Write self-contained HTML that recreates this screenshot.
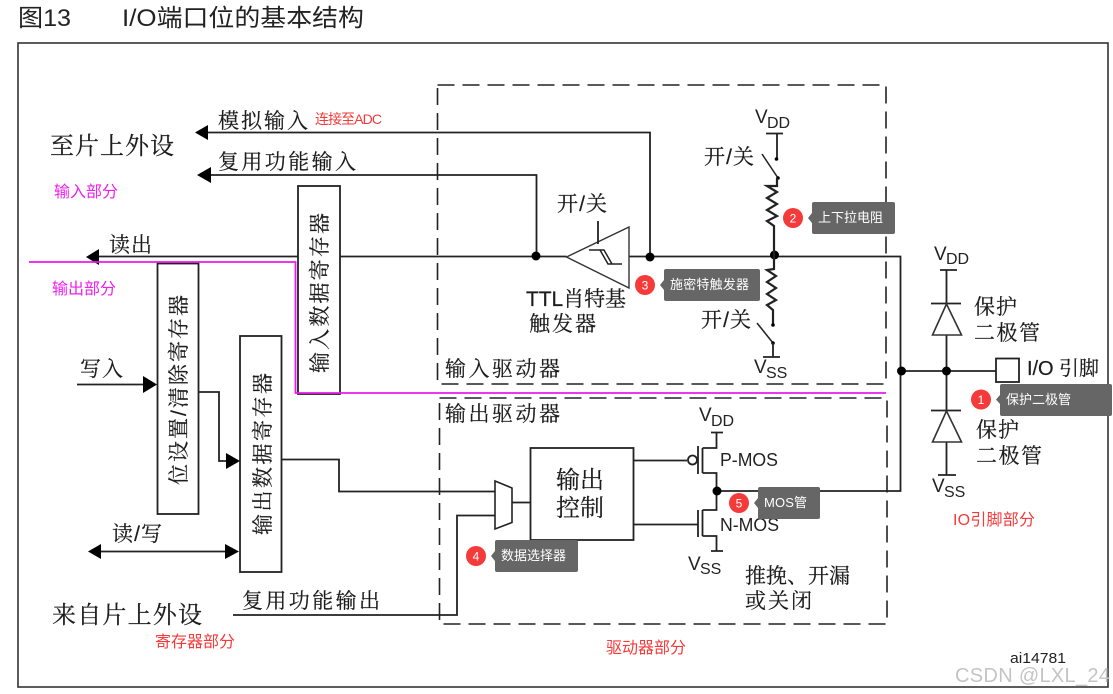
<!DOCTYPE html>
<html>
<head>
<meta charset="utf-8">
<style>
html,body{margin:0;padding:0;background:#fff;width:1113px;height:694px;overflow:hidden}
svg{display:block}
.s{font-family:"Liberation Sans","Noto Serif CJK SC",serif;fill:#1c1c1c;stroke:#1c1c1c;stroke-width:.2}
.a{font-family:"Liberation Sans",sans-serif;fill:#222}
.n{font-family:"Liberation Sans","Noto Sans CJK SC",sans-serif}
.w{fill:#fff;font-size:13px}
.l{stroke:#222;stroke-width:1.8;fill:none}
.t{stroke:#333;stroke-width:1.4;fill:none}
.d{stroke:#222;stroke-width:1.6;fill:none;stroke-dasharray:17 8}
.b{fill:#000}
.g{fill:#666}
.c{fill:#f53a3a}
</style>
</head>
<body>
<svg width="1113" height="694" viewBox="0 0 1113 694" xmlns="http://www.w3.org/2000/svg">
<rect width="1113" height="694" fill="#fff"/>
<text class="n" x="18" y="26" font-size="24" fill="#222" textLength="53" lengthAdjust="spacingAndGlyphs">图13</text>
<text class="n" x="122" y="26" font-size="24" fill="#222" textLength="242" lengthAdjust="spacingAndGlyphs">I/O端口位的基本结构</text>
<rect x="18" y="43" width="1090" height="644" fill="none" stroke="#333" stroke-width="1.6"/>

<rect class="d" x="437.5" y="85" width="448.5" height="299"/>
<rect class="d" x="439.5" y="398" width="447.5" height="226"/>

<!-- left lines and arrows -->
<path class="l" d="M205 132.500H650V256"/>
<polygon class="b" points="195,132.500 208,125 208,140"/>
<path class="l" d="M207 175H536.500V256"/>
<polygon class="b" points="197,175 211,167 211,183"/>
<path class="l" d="M96 256.500H298"/>
<polygon class="b" points="86,257 99,249 99,265"/>
<path class="l" d="M340 256.500H566.500"/>
<path class="l" d="M629 256.500H900.500V491H717"/>
<rect x="298" y="186" width="42" height="208" fill="#fff" stroke="#222" stroke-width="1.800"/>
<rect x="157.500" y="263.500" width="41" height="250.500" fill="#fff" stroke="#222" stroke-width="1.800"/>
<rect x="240" y="336" width="41.500" height="236" fill="#fff" stroke="#222" stroke-width="1.800"/>
<path class="l" d="M77 384.500H146"/>
<polygon class="b" points="157,384.500 143,376 143,393"/>
<path class="l" d="M198.500 392H219V461H228"/>
<polygon class="b" points="240,461 226,453 226,469"/>
<path class="l" d="M98 551.500H230"/>
<polygon class="b" points="88,551.500 101,544 101,559"/>
<polygon class="b" points="239,551.500 225,544 225,559"/>
<path class="l" d="M281 459.500H339V491.500H495"/>
<path class="l" d="M233 615H457V515.500H495"/>
<polygon points="495,481 512,488 512,522.500 495,529" fill="#fff" stroke="#222" stroke-width="1.6"/>
<path class="l" d="M512 502.500H530"/>
<rect x="530.500" y="448" width="103" height="92" fill="#fff" stroke="#222" stroke-width="1.800"/>

<!-- Schmitt trigger -->
<polygon points="566.500,257 629,227 629,288" fill="#fff" stroke="#333" stroke-width="1.400"/>
<path class="l" d="M598 221V244"/>
<path d="M589 250H604L612 264H622M600 250L608 264H612" fill="none" stroke="#222" stroke-width="1.500"/>
<circle class="b" cx="536" cy="256" r="4.500"/>
<circle class="b" cx="650" cy="257" r="4.500"/>
<circle class="b" cx="774.500" cy="255" r="4.500"/>

<!-- pull up -->
<path class="l" d="M766 133.500H783M777 133.500V159"/>
<circle class="b" cx="776.500" cy="159" r="1.800"/>
<path d="M762 154L778 178" stroke="#222" stroke-width="1.500" fill="none"/>
<circle class="b" cx="778" cy="178" r="1.800"/>
<path d="M777 178V186L767 186L777 192L767 198L777 204L767 210L777 216L767 221L774 226V255" fill="none" stroke="#222" stroke-width="2.200"/>
<!-- pull down -->
<path d="M774 255V269L767 270L776 276L767 282L776 288L767 294L776 300L767 305L773 310V325" fill="none" stroke="#222" stroke-width="2.200"/>
<circle class="b" cx="773" cy="325" r="1.800"/>
<path d="M757 323L773 343" stroke="#222" stroke-width="1.500" fill="none"/>
<circle class="b" cx="773" cy="343" r="1.800"/>
<path class="l" d="M773 343V357M763 357H780"/>

<!-- MOS -->
<path class="l" d="M633 460.500H687"/>
<circle cx="692.500" cy="460" r="4.500" fill="#fff" stroke="#222" stroke-width="1.800"/>
<path class="l" d="M698 446V474M702.500 448V473M702.500 448H716.500V432.500M711 432.500H723M702.500 473H716.500V510H702.500M702.500 510V536M702.500 536H716.500V551M711 551H723M698 510V537M633 524.500H698"/>
<circle class="b" cx="717" cy="491" r="4.500"/>

<!-- diodes -->
<path class="l" d="M940 270H957M946.500 270V303M931 303.500H961M946.500 335V410M931 410.500H961M946.500 442V475M938 475H956"/>
<polygon points="946.500,304 932.500,335 961.500,335" fill="#fff" stroke="#333" stroke-width="1.600"/>
<polygon points="946.500,411 932.500,442 961.500,442" fill="#fff" stroke="#333" stroke-width="1.600"/>
<path class="l" d="M900 371H996"/>
<rect x="996" y="358.500" width="23" height="23.500" fill="#fff" stroke="#222" stroke-width="1.800"/>
<circle class="b" cx="901.500" cy="371" r="4.500"/>
<circle class="b" cx="946.500" cy="371" r="4.500"/>

<!-- magenta -->
<path d="M29 262H295.500V393H886" fill="none" stroke="#ee18ee" stroke-width="1.800"/>

<!-- labels -->
<g class="s">
<text x="50" y="154" font-size="24" textLength="124">至片上外设</text>
<text x="218" y="128" font-size="21" textLength="90">模拟输入</text>
<text x="218" y="169" font-size="21" textLength="138">复用功能输入</text>
<text x="109" y="252" font-size="21" textLength="43">读出</text>
<text x="80" y="376" font-size="21" textLength="43">写入</text>
<text x="112" y="541" font-size="21" textLength="50">读/写</text>
<text x="52" y="623" font-size="24" textLength="150">来自片上外设</text>
<text x="242" y="608" font-size="21" textLength="138">复用功能输出</text>
<text x="704" y="164" font-size="21" textLength="50">开/关</text>
<text x="557" y="211" font-size="21" textLength="50">开/关</text>
<text x="701" y="327" font-size="21" textLength="50">开/关</text>
<text x="526" y="306" font-size="21" textLength="100">TTL肖特基</text>
<text x="529" y="331" font-size="21" textLength="67">触发器</text>
<text x="445" y="376" font-size="21" textLength="115">输入驱动器</text>
<text x="445" y="421" font-size="21" textLength="115">输出驱动器</text>
<text x="556" y="488" font-size="24" textLength="48">输出</text>
<text x="556" y="516" font-size="24" textLength="48">控制</text>
<text x="745" y="583" font-size="21" textLength="105">推挽、开漏</text>
<text x="745" y="608" font-size="21" textLength="67">或关闭</text>
<text x="974" y="314" font-size="21" textLength="43">保护</text>
<text x="974" y="340" font-size="21" textLength="66">二极管</text>
<text x="976" y="437" font-size="21" textLength="43">保护</text>
<text x="976" y="463" font-size="21" textLength="66">二极管</text>
<text x="1027" y="375" font-size="20" textLength="72">I/O 引脚</text>
<text transform="translate(327,373) rotate(-90)" font-size="21" textLength="160">输入数据寄存器</text>
<text transform="translate(186,485) rotate(-90)" font-size="21" textLength="190">位设置/清除寄存器</text>
<text transform="translate(270,535) rotate(-90)" font-size="21" textLength="162">输出数据寄存器</text>
</g>
<g class="a">
<text x="755" y="123" font-size="19">V</text><text x="767" y="128" font-size="16">DD</text>
<text x="754" y="373" font-size="19">V</text><text x="766" y="378" font-size="16">SS</text>
<text x="699" y="421" font-size="19">V</text><text x="711" y="426" font-size="16">DD</text>
<text x="688" y="570" font-size="19">V</text><text x="700" y="574" font-size="16">SS</text>
<text x="934" y="260" font-size="19">V</text><text x="946" y="264" font-size="16">DD</text>
<text x="932" y="492" font-size="19">V</text><text x="944" y="497" font-size="16">SS</text>
<text x="720" y="466" font-size="18" textLength="58" lengthAdjust="spacingAndGlyphs">P-MOS</text>
<text x="720" y="531" font-size="18" textLength="59" lengthAdjust="spacingAndGlyphs">N-MOS</text>
<text x="1010" y="663" font-size="15" textLength="56" lengthAdjust="spacingAndGlyphs">ai14781</text>
</g>

<g class="n">
<text x="315" y="124" font-size="14" fill="#f53a3a" textLength="67">连接至ADC</text>
<text x="54" y="197" font-size="16" fill="#f01ef0" textLength="64">输入部分</text>
<text x="52" y="294" font-size="16" fill="#f01ef0" textLength="64">输出部分</text>
<text x="155" y="647" font-size="16" fill="#f53a3a" textLength="80">寄存器部分</text>
<text x="606" y="653" font-size="16" fill="#f53a3a" textLength="80">驱动器部分</text>
<text x="953" y="525" font-size="16" fill="#f53a3a" textLength="82">IO引脚部分</text>
<text x="955" y="682" font-size="20" fill="#c4c4c4" textLength="155">CSDN @LXL_24</text>

<!-- callouts -->
<rect class="g" x="1000" y="384" width="112" height="32" rx="2"/><polygon class="g" points="1000,395 996,399.500 1000,404"/>
<circle class="c" cx="981" cy="399.500" r="10"/>
<text x="981" y="404" font-size="12" fill="#fff" text-anchor="middle">1</text>
<text class="w" x="1006" y="404" textLength="65">保护二极管</text>

<rect class="g" x="812" y="202" width="83" height="32" rx="2"/><polygon class="g" points="812,213 808,218 812,223"/>
<circle class="c" cx="793" cy="218" r="10"/>
<text x="793" y="222.500" font-size="12" fill="#fff" text-anchor="middle">2</text>
<text class="w" x="818" y="222" textLength="65">上下拉电阻</text>

<rect class="g" x="664" y="269" width="96" height="32" rx="2"/><polygon class="g" points="664,280 660,285 664,290"/>
<circle class="c" cx="645" cy="285" r="10"/>
<text x="645" y="289.500" font-size="12" fill="#fff" text-anchor="middle">3</text>
<text class="w" x="670" y="289" textLength="79">施密特触发器</text>

<rect class="g" x="495" y="540" width="83" height="32" rx="2"/><polygon class="g" points="495,551 491,556 495,561"/>
<circle class="c" cx="476" cy="556" r="10"/>
<text x="476" y="560.500" font-size="12" fill="#fff" text-anchor="middle">4</text>
<text class="w" x="501" y="560" textLength="65">数据选择器</text>

<rect class="g" x="758" y="487" width="62" height="32" rx="2"/><polygon class="g" points="758,498 754,503 758,508"/>
<circle class="c" cx="739" cy="503" r="10"/>
<text x="739" y="507.500" font-size="12" fill="#fff" text-anchor="middle">5</text>
<text class="w" x="764" y="507" textLength="43">MOS管</text>
</g>
</svg>
</body>
</html>
